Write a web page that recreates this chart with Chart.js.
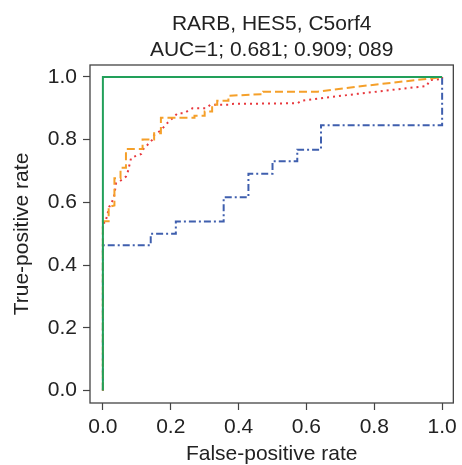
<!DOCTYPE html>
<html>
<head>
<meta charset="utf-8">
<script src="https://cdn.jsdelivr.net/npm/chart.js@4.4.1/dist/chart.umd.min.js"></script>
<style>
  html, body { margin: 0; padding: 0; background: #fff; }
  canvas { display: block; }
</style>
</head>
<body>
<canvas id="roc" width="462" height="465"></canvas>
<script>
// ROC curves (false-positive rate vs true-positive rate)
const titleLines = ['RARB, HES5, C5orf4', 'AUC=1; 0.681; 0.909; 089'];
const tickValues = [0, 0.2, 0.4, 0.6, 0.8, 1.0];

const greenFpr = [0, 0, 1];
const greenTpr = [0, 1, 1];

const blueFpr = [0, 0, 0.141, 0.141, 0.215, 0.215, 0.356, 0.356, 0.429, 0.429, 0.5, 0.5, 0.573, 0.573, 0.643, 0.643, 1, 1];
const blueTpr = [0, 0.463, 0.463, 0.5, 0.5, 0.539, 0.539, 0.616, 0.616, 0.691, 0.691, 0.731, 0.731, 0.768, 0.768, 0.846, 0.846, 1];

const orangeFpr = [0, 0, 0.017, 0.017, 0.034, 0.034, 0.052, 0.052, 0.068, 0.068, 0.117, 0.117, 0.151, 0.151, 0.171, 0.171, 0.27, 0.27, 0.30, 0.30, 0.322, 0.322, 0.337, 0.337, 0.37, 0.37, 0.472, 0.472, 0.633, 0.75, 0.974, 1];
const orangeTpr = [0, 0.54, 0.54, 0.585, 0.59, 0.677, 0.677, 0.71, 0.71, 0.77, 0.77, 0.8, 0.8, 0.82, 0.82, 0.87, 0.87, 0.876, 0.876, 0.89, 0.89, 0.911, 0.911, 0.924, 0.924, 0.94, 0.945, 0.953, 0.953, 0.969, 0.996, 1];

const redFpr = [0, 0, 0.007, 0.019, 0.032, 0.039, 0.048, 0.068, 0.073, 0.083, 0.099, 0.113, 0.121, 0.131, 0.145, 0.151, 0.166, 0.176, 0.191, 0.205, 0.22, 0.239, 0.253, 0.264, 0.302, 0.317, 0.37, 0.38, 0.574, 0.585, 0.75, 0.954, 0.964, 1, 1];
const redTpr = [0, 0.535, 0.535, 0.586, 0.613, 0.661, 0.666, 0.682, 0.695, 0.741, 0.749, 0.754, 0.773, 0.783, 0.799, 0.815, 0.826, 0.836, 0.854, 0.868, 0.884, 0.884, 0.893, 0.9, 0.9, 0.911, 0.911, 0.914, 0.916, 0.924, 0.946, 0.971, 0.99, 0.993, 1];

function pairs(xs, ys) {
    return xs.map((x, i) => ({ x: x, y: ys[i] }));
}

const textColor = '#222';
Chart.defaults.font.family = "'Liberation Sans', Arial, Helvetica, sans-serif";
Chart.defaults.color = textColor;

// full box around the plotting region
const boxPlugin = {
    id: 'box',
    afterDraw(chart) {
        const a = chart.chartArea;
        const ctx = chart.ctx;
        ctx.save();
        ctx.strokeStyle = '#444';
        ctx.lineWidth = 1.3;
        ctx.strokeRect(a.left, a.top, a.right - a.left, a.bottom - a.top);
        ctx.restore();
    }
};

function setTicks(scale) {
    scale.ticks = tickValues.map(v => ({ value: v }));
}

const lineBase = { fill: false, pointRadius: 0, borderWidth: 2, tension: 0 };

new Chart(document.getElementById('roc'), {
    type: 'line',
    data: {
        datasets: [
            Object.assign({ label: 'C', data: pairs(greenFpr, greenTpr), borderColor: '#22a05a', order: 0 }, lineBase),
            Object.assign({ label: 'comb', data: pairs(orangeFpr, orangeTpr), borderColor: '#f5a02a', borderDash: [8, 4], order: 1 }, lineBase),
            Object.assign({ label: 'B', data: pairs(redFpr, redTpr), borderColor: '#e8383d', borderDash: [2, 4], order: 2 }, lineBase),
            Object.assign({ label: 'A', data: pairs(blueFpr, blueTpr), borderColor: '#3f5fae', borderDash: [7, 3, 2, 3], order: 3 }, lineBase)
        ]
    },
    options: {
        responsive: false,
        animation: false,
        devicePixelRatio: 1,
        layout: { padding: { left: 0, right: 5, top: 0, bottom: 0 } },
        plugins: {
            legend: { display: false },
            tooltip: { enabled: false },
            title: {
                display: true,
                text: titleLines,
                fullSize: false,
                color: textColor,
                font: { size: 21, weight: 'normal', lineHeight: 1.25 },
                padding: { top: 11, bottom: 1.5 }
            }
        },
        scales: {
            x: {
                type: 'linear',
                min: -0.038,
                max: 1.033,
                afterBuildTicks: setTicks,
                afterFit(scale) { scale.height = 62; },
                grid: { display: true, drawOnChartArea: false, drawTicks: true, tickLength: 7, tickColor: '#444', tickWidth: 1.2 },
                border: { display: false },
                ticks: { color: textColor, font: { size: 21 }, padding: 5, maxRotation: 0, callback: v => v.toFixed(1) },
                title: { display: true, text: 'False-positive rate', color: textColor, font: { size: 21, lineHeight: 1 }, padding: { top: 0, bottom: 0 } }
            },
            y: {
                type: 'linear',
                min: -0.040,
                max: 1.038,
                afterBuildTicks: setTicks,
                afterFit(scale) { scale.width = 90; },
                grid: { display: true, drawOnChartArea: false, drawTicks: true, tickLength: 7, tickColor: '#444', tickWidth: 1.2 },
                border: { display: false },
                ticks: { color: textColor, font: { size: 21 }, padding: 6, callback: v => v.toFixed(1) },
                title: { display: true, text: 'True-positive rate', color: textColor, font: { size: 21, lineHeight: 1 }, padding: { top: 12, bottom: 0 } }
            }
        }
    },
    plugins: [boxPlugin]
});
</script>
</body>
</html>
